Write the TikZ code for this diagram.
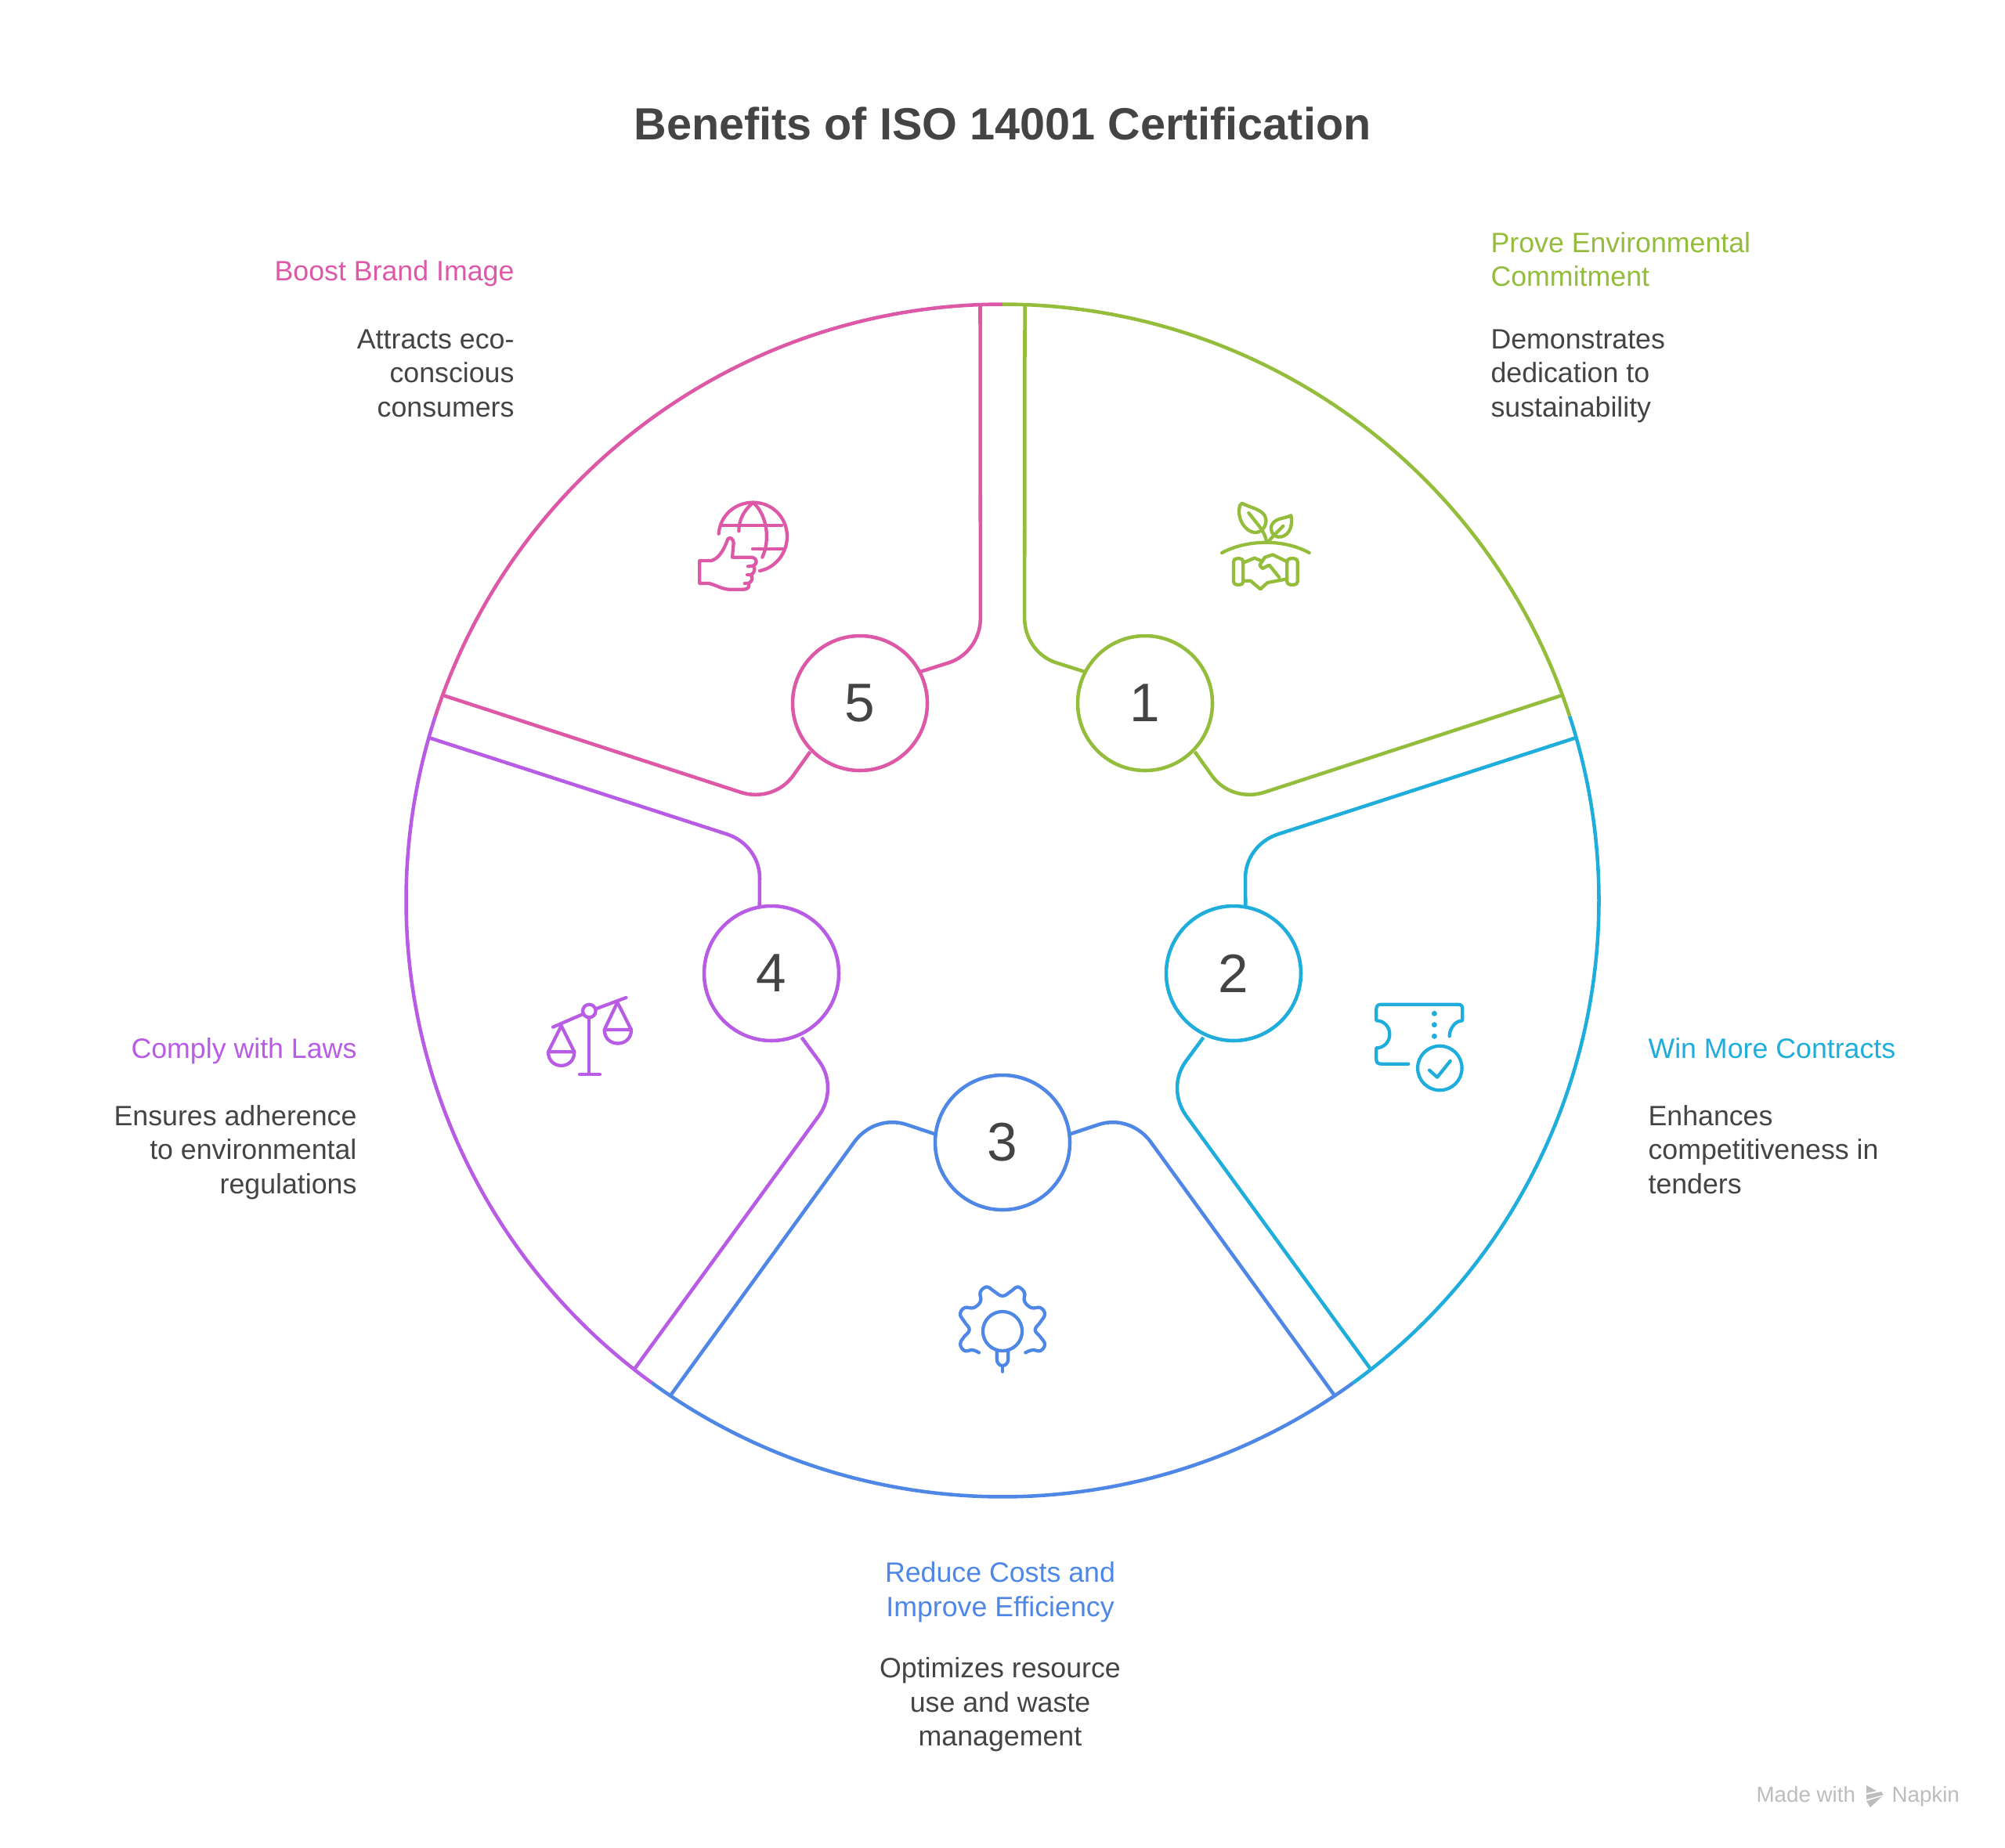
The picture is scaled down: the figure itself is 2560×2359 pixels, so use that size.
\documentclass[tikz,border=0pt]{standalone}
\usepackage{fontspec}
\setmainfont{Liberation Sans}
\definecolor{cgreen}{HTML}{93BD3A}
\definecolor{ccyan}{HTML}{1FADDB}
\definecolor{cblue}{HTML}{4F87E6}
\definecolor{cpurple}{HTML}{B85CE6}
\definecolor{cpink}{HTML}{DE58A8}
\definecolor{ctext}{HTML}{444444}
\definecolor{cmark}{HTML}{BDBDBD}
\tikzset{
  seg/.style={line width=1.7pt,line join=round,line cap=butt},
  num/.style={circle,draw=#1,fill=white,line width=1.7pt,minimum size=64.5pt,inner sep=0pt,text=ctext,font=\fontsize{26}{30}\selectfont},
  body/.style={inner sep=0pt,text=ctext,font=\fontsize{13.4}{16.2}\selectfont},
  head/.style={inner sep=0pt,text=#1,font=\fontsize{13.4}{16.2}\selectfont},
  ico/.style={line width=1.6pt,line cap=round,line join=round,draw=#1},
}
\newcommand{\segmentpath}[2]{%
  \begin{scope}[rotate around={#1:(1280,1150)}]
    \draw[seg,draw=#2] (832.4,1766) arc[start angle=234,end angle=306,radius=285.56pt];
    \draw[seg,draw=#2] (855.8,1782.4) -- (1091,1458) .. controls (1106.6,1437) and (1133,1428.2) .. (1157,1436) -- (1193,1448);
    \draw[seg,draw=#2] (1704.2,1782.4) -- (1469,1458) .. controls (1453.4,1437) and (1427,1428.2) .. (1403,1436) -- (1367,1448);
  \end{scope}}
\begin{document}
\begin{tikzpicture}[x=0.375pt,y=-0.375pt]
\useasboundingbox (0,0) rectangle (2560,2359);
\fill[white] (0,0) rectangle (2560,2359);
\node[inner sep=0pt,text=ctext,font=\fontsize{21.6}{26}\selectfont\bfseries] (title) at (1280,158) {Benefits of ISO 14001 Certification};

\segmentpath{-144}{cpink}
\segmentpath{-72}{cpurple}
\segmentpath{0}{cblue}
\segmentpath{72}{ccyan}
\segmentpath{144}{cgreen}

\node[num=cgreen] (n1) at (1462,898) {1};
\node[num=ccyan] (n2) at (1575,1243) {2};
\node[num=cblue] (n3) at (1280,1459) {3};
\node[num=cpurple] (n4) at (985,1243) {4};
\node[num=cpink] (n5) at (1098,898) {5};

% labels
\node[head=cgreen,anchor=north west,align=left] (h1) at (1903,292) {\strut Prove Environmental\\Commitment};
\node[body,anchor=north west,align=left] (d1) at (1903,415) {\strut Demonstrates\\dedication to\\sustainability};
\node[head=ccyan,anchor=north west,align=left] (h2) at (2104,1321) {\strut Win More Contracts};
\node[body,anchor=north west,align=left] (d2) at (2104,1407) {\strut Enhances\\competitiveness in\\tenders};
\node[head=cblue,anchor=north,align=center] (h3) at (1277,1990) {\strut Reduce Costs and\\Improve Efficiency};
\node[body,anchor=north,align=center] (d3) at (1277,2112) {\strut Optimizes resource\\use and waste\\management};
\node[head=cpurple,anchor=north east,align=right] (h4) at (456,1321) {\strut Comply with Laws};
\node[body,anchor=north east,align=right] (d4) at (456,1407) {\strut Ensures adherence\\to environmental\\regulations};
\node[head=cpink,anchor=north east,align=right] (h5) at (657,328) {\strut Boost Brand Image};
\node[body,anchor=north east,align=right] (d5) at (657,415) {\strut Attracts eco-\\conscious\\consumers};

% icon 1: seedling and handshake
\begin{scope}[shift={(1500,620)},x=0.125pt,y=-0.125pt]
  \draw[ico=cgreen] (258,68) .. controls (285,85) and (340,90) .. (348,125) .. controls (355,150) and (335,182) .. (305,180) .. controls (265,175) and (235,120) .. (250,75) -- cycle;
  \draw[ico=cgreen] (283,105) -- (325,158) .. controls (338,175) and (348,195) .. (352,218);
  \draw[ico=cgreen] (445,115) .. controls (415,128) and (385,125) .. (372,150) .. controls (362,170) and (375,195) .. (395,197) .. controls (430,200) and (455,165) .. (445,115) -- cycle;
  \draw[ico=cgreen] (415,155) -- (392,178) .. controls (378,192) and (365,205) .. (358,218);
  \draw[ico=cgreen] (180,258) .. controls (280,205) and (420,205) .. (515,258);
  \draw[ico=cgreen,rounded corners=1.5pt] (225,280) rectangle (262,380);
  \draw[ico=cgreen,rounded corners=1.5pt] (430,280) rectangle (470,380);
  \draw[ico=cgreen] (262,296) -- (305,278) -- (335,290);
  \draw[ico=cgreen] (430,292) -- (375,265) -- (345,275) -- (325,305) -- (335,318) -- (362,305) -- (400,352);
  \draw[ico=cgreen] (262,365) -- (290,365) -- (328,397) -- (355,372) -- (430,358);
\end{scope}

% icon 2: ticket with check
\begin{scope}[shift={(1730,1260)},x=0.125pt,y=-0.125pt]
  \draw[ico=ccyan] (205,296) -- (100,296) .. controls (88,296) and (82,290) .. (82,280) -- (82,235) .. controls (112,235) and (133,210) .. (133,182) .. controls (133,155) and (112,130) .. (82,130) -- (82,85) .. controls (82,74) and (88,68) .. (100,68) -- (395,68) .. controls (406,68) and (412,74) .. (412,85) -- (412,130) .. controls (385,130) and (362,160) .. (362,190);
  \fill[ccyan] (304,103) circle[radius=1.3pt];
  \fill[ccyan] (304,146) circle[radius=1.3pt];
  \fill[ccyan] (304,190) circle[radius=1.3pt];
  \draw[ico=ccyan] (325,312) circle[radius=10.6pt];
  \draw[ico=ccyan] (285,320) -- (315,347) -- (365,285);
\end{scope}

% icon 3: gear with bulb
\begin{scope}[shift={(1200,1620)},x=0.125pt,y=-0.125pt]
  \draw[ico=cblue] plot[smooth,tension=0.7] coordinates {(150,322) (125,312) (95,315) (78,290) (90,265) (113,235) (95,205) (78,175) (95,150) (130,150) (156,125) (155,90) (180,70) (205,85) (240,105) (275,85) (298,70) (324,92) (324,125) (350,150) (385,150) (402,175) (385,205) (365,235) (385,262) (402,290) (385,315) (355,312) (328,322)};
  \draw[ico=cblue] (240,240) circle[radius=9.4pt];
  \draw[ico=cblue] (218,315) -- (218,345) .. controls (218,362) and (228,372) .. (240,372) .. controls (252,372) and (262,362) .. (262,345) -- (262,315);
  \draw[ico=cblue] (240,372) -- (240,395);
\end{scope}

% icon 4: scales
\begin{scope}[shift={(680,1260)},x=0.125pt,y=-0.125pt]
  \draw[ico=cpurple] (78,155) -- (193,105);
  \draw[ico=cpurple] (243,85) -- (358,42);
  \draw[ico=cpurple] (217,93) circle[radius=3.1pt];
  \draw[ico=cpurple] (215,118) -- (215,335);
  \draw[ico=cpurple] (180,335) -- (258,335);
  \draw[ico=cpurple] (110,150) -- (60,250) -- (160,250) -- cycle;
  \draw[ico=cpurple] (60,250) .. controls (60,320) and (160,320) .. (160,250);
  \draw[ico=cpurple] (325,60) -- (275,165) -- (378,165) -- cycle;
  \draw[ico=cpurple] (275,165) .. controls (275,235) and (378,235) .. (378,165);
\end{scope}

% icon 5: globe and thumb
\begin{scope}[shift={(880,630)},x=0.125pt,y=-0.125pt]
  \draw[ico=cpink] (113,155) .. controls (118,85) and (175,35) .. (245,35) .. controls (320,35) and (375,95) .. (375,165) .. controls (375,230) and (330,285) .. (270,297);
  \draw[ico=cpink] (125,122) -- (355,122);
  \draw[ico=cpink] (243,212) -- (365,212);
  \draw[ico=cpink] (245,35) .. controls (210,65) and (190,100) .. (190,145);
  \draw[ico=cpink] (245,35) .. controls (300,85) and (310,180) .. (280,245);
  \draw[ico=cpink] (40,258) -- (85,258) .. controls (110,250) and (130,225) .. (148,175) .. controls (155,165) and (170,175) .. (170,190) -- (165,245) -- (240,245) .. controls (262,250) and (262,270) .. (245,278) .. controls (255,285) and (250,310) .. (235,312) .. controls (248,320) and (240,342) .. (225,345) .. controls (235,355) and (225,368) .. (210,368) -- (150,368) .. controls (120,365) and (100,350) .. (75,345) -- (40,345) -- cycle;
  \draw[ico=cpink] (245,278) -- (225,280);
  \draw[ico=cpink] (235,312) -- (222,312);
  \draw[ico=cpink] (225,345) -- (212,345);
\end{scope}

% watermark
\node[inner sep=0pt,anchor=base west,text=cmark,font=\fontsize{10.4}{12}\selectfont] (mw) at (2242,2301) {Made with};
\node[inner sep=0pt,anchor=base west,text=cmark,font=\fontsize{10.4}{12}\selectfont] (np) at (2415,2301) {Napkin};
\fill[cmark] (2383,2280) -- (2396,2287) -- (2383,2290) -- cycle;
\fill[cmark] (2383,2292) -- (2402,2288) -- (2405,2292) -- (2383,2298) -- cycle;
\fill[cmark] (2383,2300) -- (2403,2294) -- (2388,2308) -- cycle;
\end{tikzpicture}
\end{document}
